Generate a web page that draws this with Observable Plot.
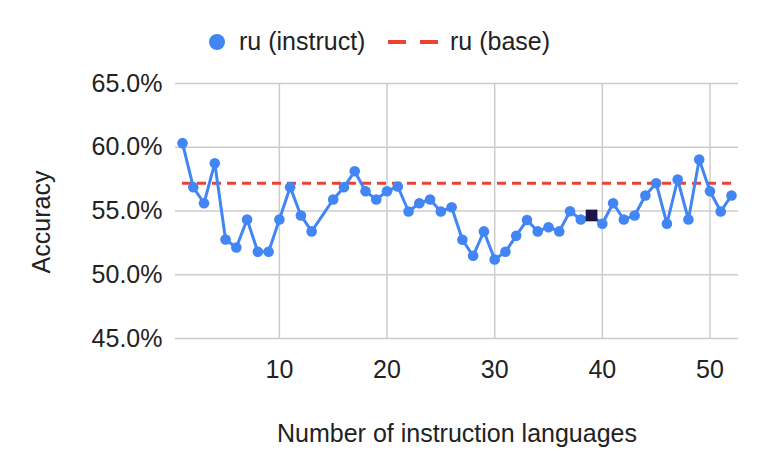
<!DOCTYPE html>
<html><head><meta charset="utf-8">
<script src="https://cdn.jsdelivr.net/npm/d3@7"></script>
<script src="https://cdn.jsdelivr.net/npm/@observablehq/plot@0.6"></script>
<style>
body{margin:0;background:#fff;font-family:"Liberation Sans",Arial,sans-serif;}
#wrap{width:761px;height:470px;position:relative;overflow:hidden;}
#legend{position:relative;height:64px;font-size:25px;color:#222;}
#legend .sw{position:absolute;}
#legend .lab{position:absolute;top:27px;line-height:29px;white-space:nowrap;}
</style></head>
<body>
<div id="wrap">
  <div id="legend">
    <div class="sw" style="left:209px;top:33.5px;width:16px;height:16px;border-radius:50%;background:#4285f4"></div>
    <span class="lab" style="left:239px">ru (instruct)</span>
    <div class="sw" style="left:388px;top:39.5px;width:18px;height:4px;background:#ea4335"></div>
    <div class="sw" style="left:420px;top:39.5px;width:18px;height:4px;background:#ea4335"></div>
    <span class="lab" style="left:450px">ru (base)</span>
  </div>
  <div id="chart"></div>
</div>
<script>
const numLanguages = [1,2,3,4,5,6,7,8,9,10,11,12,13,15,16,17,18,19,20,21,22,23,24,25,26,27,28,29,30,31,32,33,34,35,36,37,38,39,40,41,42,43,44,45,46,47,48,49,50,51,52];
const ruInstruct = [60.32,56.87,55.61,58.75,52.76,52.14,54.33,51.8,51.8,54.33,56.87,54.65,53.4,55.9,56.87,58.12,56.55,55.9,56.55,56.92,54.96,55.61,55.9,54.96,55.3,52.74,51.49,53.4,51.2,51.8,53.05,54.3,53.4,53.73,53.4,54.98,54.33,54.65,54.0,55.61,54.33,54.65,56.22,57.18,54.0,57.47,54.33,59.04,56.55,54.96,56.22];
const ruBase = 57.18;
const highlightLanguages = [39];
const xTicks = [10,20,30,40,50];
const yTicks = [45,50,55,60,65];

const data = numLanguages.map((x,i)=>({x, y: ruInstruct[i]}));
const highlight = data.filter(d => highlightLanguages.includes(d.x));
const xMin = d3.min(numLanguages), xMax = d3.max(numLanguages);

const chart = Plot.plot({
  width: 761,
  height: 406,
  marginTop: 19,
  marginBottom: 132,
  marginLeft: 175,
  marginRight: 23,
  style: {fontFamily: '"Liberation Sans", Arial, sans-serif', fontSize: "25px", color: "#222", background: "#fff"},
  x: {domain: [0.35, 52.65]},
  y: {domain: [45, 65]},
  marks: [
    Plot.gridX(xTicks, {stroke: "#cccccc", strokeOpacity: 1, strokeWidth: 1.5}),
    Plot.gridY(yTicks, {stroke: "#cccccc", strokeOpacity: 1, strokeWidth: 1.5}),
    Plot.axisX(xTicks, {tickSize: 0, tickPadding: 22, label: null, fontSize: 25, fill: "#222"}),
    Plot.axisY(yTicks, {tickSize: 0, tickPadding: 13, label: null, fontSize: 25, fill: "#222", tickFormat: d => d.toFixed(1) + "%"}),
    Plot.ruleY([ruBase], {x1: xMin, x2: xMax, stroke: "#ea4335", strokeWidth: 3, strokeDasharray: "9,6"}),
    Plot.line(data, {x: "x", y: "y", stroke: "#4285f4", strokeWidth: 3}),
    Plot.dot(data, {x: "x", y: "y", r: 5.3, fill: "#4285f4"}),
    Plot.dot(highlight, {x: "x", y: "y", r: 6.6, symbol: "square", fill: "#1c1448"}),
    Plot.text(["Accuracy"], {frameAnchor: "left", dx: -134, dy: 11, rotate: -90, textAnchor: "middle", lineAnchor: "middle", fontSize: 25, fill: "#222"}),
    Plot.text(["Number of instruction languages"], {frameAnchor: "bottom", dy: 95, textAnchor: "middle", lineAnchor: "middle", fontSize: 25, fill: "#222"})
  ]
});
document.getElementById("chart").appendChild(chart);
</script>
</body></html>
